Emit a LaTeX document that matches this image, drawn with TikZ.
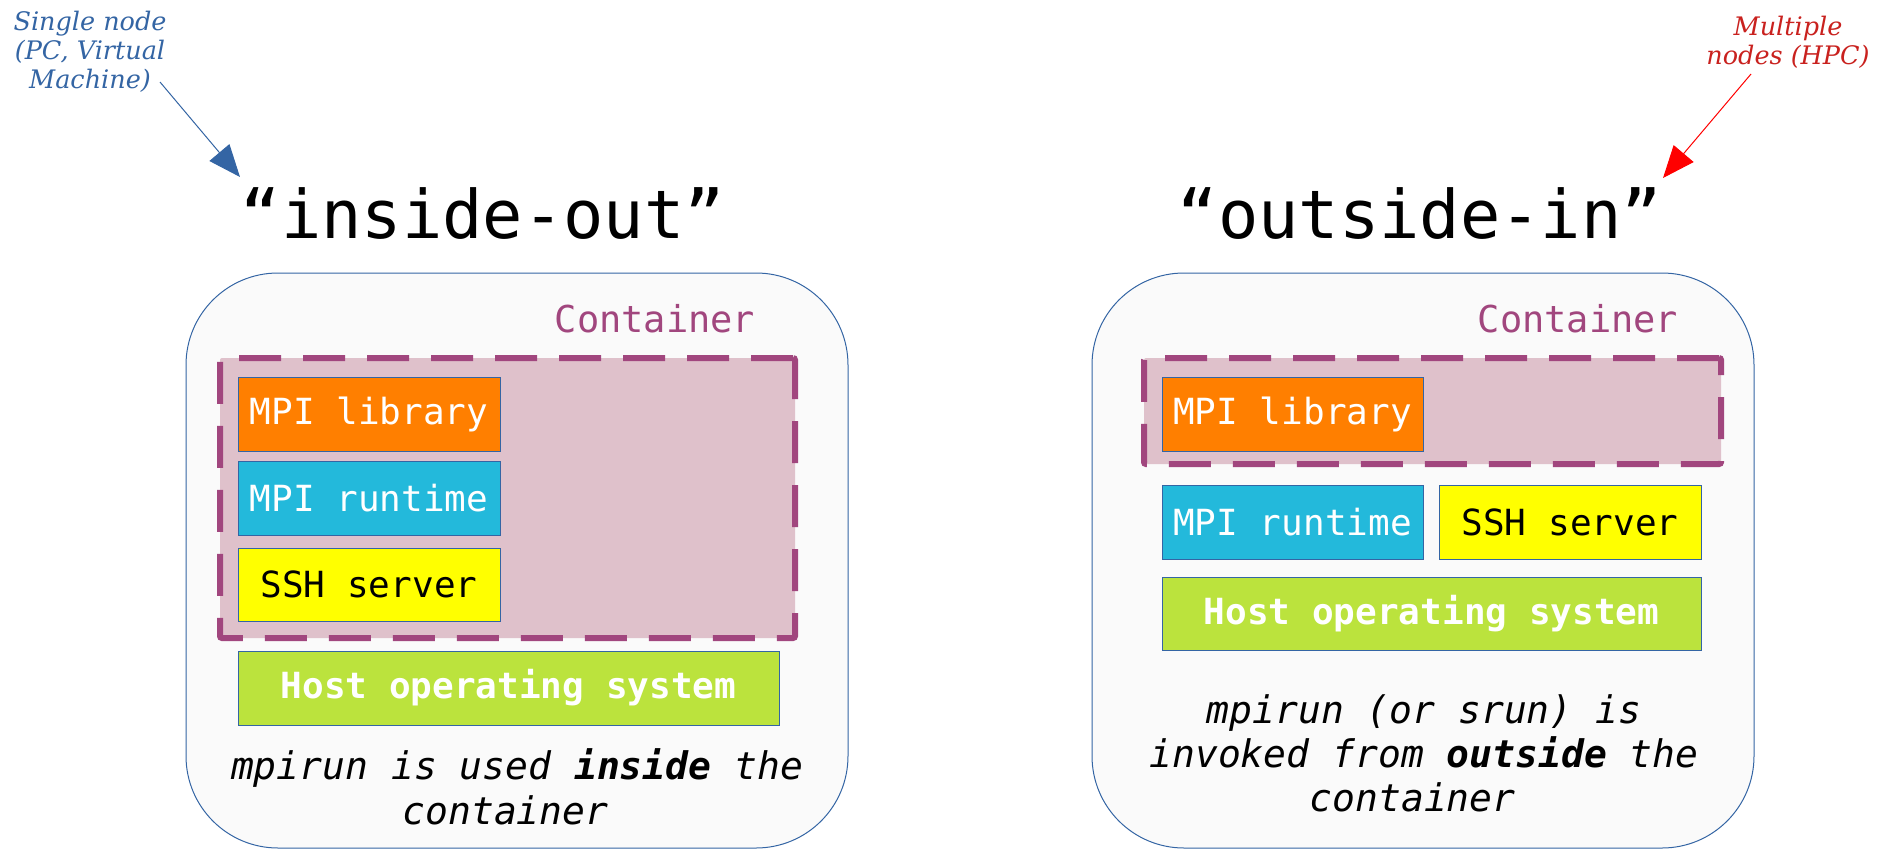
\documentclass[tikz,border=0pt]{standalone}
\usepackage{fontspec}
\setmonofont{DejaVu Sans Mono}
\newfontfamily\annfont{DejaVu Serif}
\usetikzlibrary{arrows.meta}
\definecolor{frameblue}{HTML}{3465A4}
\definecolor{contpurple}{HTML}{A1467E}
\definecolor{contpink}{HTML}{DFC1CB}
\definecolor{liborange}{HTML}{FF7F00}
\definecolor{runcyan}{HTML}{23B9DB}
\definecolor{sshyellow}{HTML}{FFFF00}
\definecolor{hostgreen}{HTML}{BBE33D}
\definecolor{hpcred}{HTML}{C9211E}
\definecolor{bgwhite}{HTML}{FAFAFA}
\tikzset{
  outerbox/.style={draw=frameblue, fill=bgwhite, line width=1pt, rounded corners=92pt,
    minimum width=662pt, minimum height=575pt, inner sep=0pt},
  contbox/.style={draw=contpurple, fill=contpink, line width=6pt, dash pattern=on 42pt off 22pt,
    rounded corners=2pt, inner sep=0pt},
  layer/.style={draw=frameblue, line width=1pt, inner sep=0pt, minimum height=74pt,
    minimum width=262pt, text=white, font=\fontsize{36}{40}\selectfont\ttfamily},
  titletext/.style={font=\fontsize{67}{70}\selectfont\ttfamily, anchor=base},
  conttext/.style={font=\fontsize{37}{40}\selectfont\ttfamily, text=contpurple, anchor=base},
  caption/.style={font=\fontsize{38}{45}\selectfont\ttfamily\itshape, align=center},
  annot/.style={font=\fontsize{25.5}{29}\selectfont\annfont\itshape, align=center},
}
\begin{document}
\begin{tikzpicture}[x=1pt,y=-1pt]
  \useasboundingbox[fill=white] (0,0) rectangle (1884,854);
  % inside-out
  \node[outerbox] (outer1) at (517,560.5) {};
  \node[titletext] (title1) at (483,238) {“inside-out”};
  \node[conttext] (ctext1) at (655,332) {Container};
  \node[contbox, minimum width=575pt, minimum height=280pt] (cont1) at (507.5,498) {};
  \node[layer, fill=liborange] (lib1) at (369,414) {MPI library};
  \node[layer, fill=runcyan] (run1) at (369,498) {MPI runtime};
  \node[layer, fill=sshyellow, text=black, minimum height=73pt] (ssh1) at (369,584.5) {SSH server};
  \node[layer, fill=hostgreen, minimum width=541pt, font=\fontsize{36}{40}\selectfont\ttfamily\bfseries] (host1) at (508.5,688) {Host operating system};
  \node[caption] (cap1) at (517,787) {mpirun is used \textbf{inside} the\\container\hphantom{x}};
  % outside-in
  \node[outerbox] (outer2) at (1423,560.5) {};
  \node[titletext] (title2) at (1420,238) {“outside-in”};
  \node[conttext] (ctext2) at (1578,332) {Container};
  \node[contbox, minimum width=577pt, minimum height=106pt] (cont2) at (1432.5,411) {};
  \node[layer, fill=liborange, minimum width=261pt] (lib2) at (1292.5,414) {MPI library};
  \node[layer, fill=runcyan, minimum width=261pt] (run2) at (1292.5,522) {MPI runtime};
  \node[layer, fill=sshyellow, text=black] (ssh2) at (1570,522) {SSH server};
  \node[layer, fill=hostgreen, minimum width=539pt, minimum height=73pt, font=\fontsize{36}{40}\selectfont\ttfamily\bfseries] (host2) at (1431.5,613.5) {Host operating system};
  \node[caption, font=\fontsize{38}{44}\selectfont\ttfamily\itshape] (cap2) at (1424,753) {mpirun (or srun) is\\invoked from \textbf{outside} the\\container\hphantom{x}};
  % notes
  \node[annot, text=frameblue] (single) at (90,52) {Single node\\(PC, Virtual\\Machine)};
  \node[annot, text=hpcred] (multi) at (1788,42) {Multiple\\nodes (HPC)};
  \coordinate (singlefrom) at (160,82);
  \coordinate (singleto) at (240,177);
  \coordinate (multifrom) at (1751,74);
  \coordinate (multito) at (1663,178);
  \draw[frameblue, line width=1pt, -{Triangle[length=32pt,width=26pt]}] (singlefrom) -- (singleto);
  \draw[red, line width=1pt, -{Triangle[length=32pt,width=26pt]}] (multifrom) -- (multito);
\end{tikzpicture}
\end{document}
